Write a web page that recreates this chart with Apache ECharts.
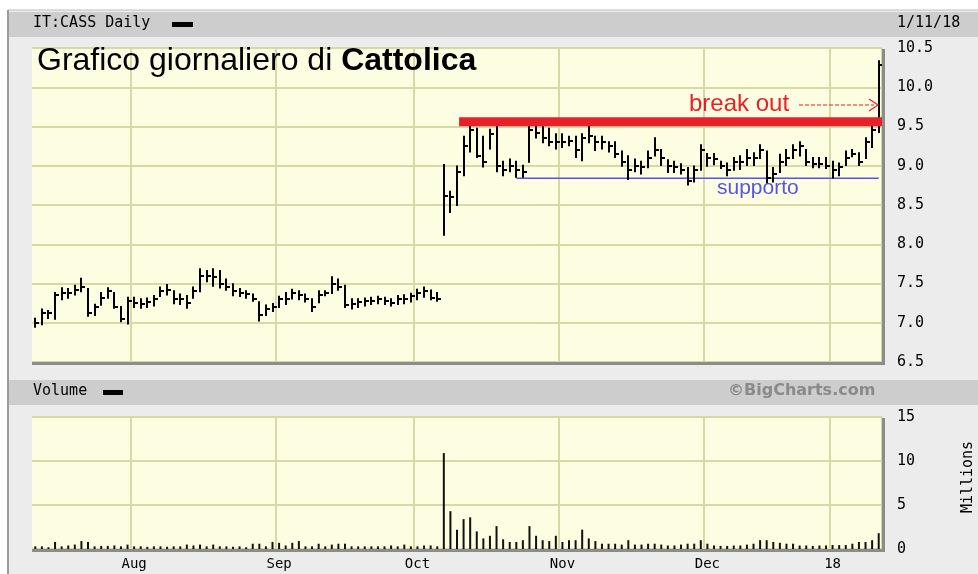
<!DOCTYPE html>
<html>
<head>
<meta charset="utf-8">
<script src="https://cdn.jsdelivr.net/npm/echarts@6/dist/echarts.min.js"></script>
<style>
  html, body { margin: 0; padding: 0; background: #fff; }
  #chart { width: 978px; height: 574px; }
</style>
</head>
<body>
<div id="chart"></div>
<script>
// trading days (Borsa Italiana), Jul 2017 - Jan 2018
const jul17 = [11,12,13,14,17,18,19,20,21,24,25,26,27,28,31];
const aug17 = [1,2,3,4,7,8,9,10,11,14,16,17,18,21,22,23,24,25,28,29,30,31];
const sep17 = [1,4,5,6,7,8,11,12,13,14,15,18,19,20,21,22,25,26,27,28,29];
const oct17 = [2,3,4,5,6,9,10,11,12,13,16,17,18,19,20,23,24,25,26,27,30,31];
const nov17 = [1,2,3,6,7,8,9,10,13,14,15,16,17,20,21,22,23,24,27,28,29,30];
const dec17 = [1,4,5,6,7,8,11,12,13,14,15,18,19,20,21,22,27,28,29];
const jan18 = [2,3,4,5,8,9,10,11];

const monthLabels = ['Aug', 'Sep', 'Oct', 'Nov', 'Dec', '18'];

// daily high / low / close (EUR)
const highs = [
  7.05, 7.17, 7.15, 7.38, 7.44, 7.43, 7.47, 7.56, 7.43, 7.23,
  7.38, 7.44, 7.38, 7.20, 7.32, 7.32, 7.30, 7.31, 7.34, 7.45,
  7.48, 7.40, 7.36, 7.34, 7.45, 7.68, 7.66, 7.68, 7.66, 7.55,
  7.49, 7.43, 7.40, 7.36, 7.26, 7.22, 7.24, 7.33, 7.38, 7.42,
  7.40, 7.36, 7.30, 7.40, 7.40, 7.58, 7.55, 7.47, 7.30, 7.30,
  7.31, 7.32, 7.33, 7.32, 7.30, 7.34, 7.35, 7.37, 7.42, 7.45,
  7.41, 7.38, 9.01, 8.67, 8.99, 9.37, 9.50, 9.47, 9.37, 9.46,
  9.50, 9.05, 9.08, 9.05, 9.00, 9.50, 9.50, 9.50, 9.47, 9.40,
  9.40, 9.37, 9.37, 9.40, 9.50, 9.37, 9.37, 9.30, 9.30, 9.18,
  9.12, 9.08, 9.05, 9.18, 9.35, 9.20, 9.07, 9.05, 9.02, 8.97,
  8.99, 9.26, 9.15, 9.15, 9.05, 9.03, 9.10, 9.12, 9.20, 9.16,
  9.26, 9.18, 8.97, 9.14, 9.20, 9.26, 9.30, 9.20, 9.10, 9.10,
  9.10, 9.05, 9.03, 9.18, 9.20, 9.16, 9.35, 9.50, 10.33
];
const lows = [
  6.95, 6.98, 7.06, 7.05, 7.30, 7.32, 7.36, 7.40, 7.09, 7.10,
  7.23, 7.32, 7.19, 7.02, 6.99, 7.20, 7.19, 7.20, 7.22, 7.34,
  7.36, 7.25, 7.24, 7.19, 7.32, 7.40, 7.53, 7.47, 7.45, 7.42,
  7.35, 7.34, 7.32, 7.28, 7.03, 7.10, 7.15, 7.20, 7.24, 7.31,
  7.30, 7.27, 7.15, 7.26, 7.35, 7.38, 7.42, 7.20, 7.18, 7.20,
  7.22, 7.24, 7.25, 7.24, 7.22, 7.24, 7.25, 7.27, 7.30, 7.33,
  7.30, 7.28, 8.12, 8.41, 8.50, 8.88, 9.18, 9.11, 8.99, 9.22,
  8.93, 8.88, 8.93, 8.86, 8.86, 9.05, 9.36, 9.30, 9.26, 9.22,
  9.24, 9.26, 9.11, 9.07, 9.30, 9.20, 9.22, 9.18, 9.11, 9.00,
  8.83, 8.93, 8.90, 8.98, 9.13, 9.01, 8.92, 8.92, 8.90, 8.76,
  8.80, 8.95, 9.00, 9.02, 8.97, 8.88, 8.95, 8.96, 9.01, 9.01,
  9.10, 8.78, 8.80, 8.92, 9.01, 9.10, 9.13, 9.01, 8.98, 8.98,
  8.97, 8.85, 8.88, 9.01, 9.12, 9.01, 9.10, 9.24, 9.43
];
const closes = [
  7.00, 7.12, 7.12, 7.35, 7.38, 7.38, 7.42, 7.45, 7.12, 7.20,
  7.32, 7.40, 7.20, 7.05, 7.28, 7.25, 7.24, 7.26, 7.30, 7.40,
  7.42, 7.30, 7.30, 7.25, 7.40, 7.60, 7.60, 7.58, 7.50, 7.45,
  7.40, 7.38, 7.36, 7.30, 7.10, 7.18, 7.20, 7.30, 7.30, 7.38,
  7.35, 7.30, 7.20, 7.35, 7.38, 7.50, 7.45, 7.22, 7.24, 7.26,
  7.28, 7.28, 7.30, 7.28, 7.25, 7.30, 7.30, 7.34, 7.38, 7.40,
  7.32, 7.30, 8.62, 8.60, 8.92, 9.25, 9.45, 9.12, 9.05, 9.40,
  9.00, 8.95, 9.00, 8.95, 8.92, 9.45, 9.42, 9.35, 9.30, 9.30,
  9.30, 9.32, 9.20, 9.35, 9.38, 9.30, 9.30, 9.25, 9.15, 9.05,
  8.95, 9.00, 8.98, 9.10, 9.20, 9.10, 9.00, 8.98, 8.95, 8.80,
  8.95, 9.20, 9.10, 9.08, 9.00, 8.95, 9.05, 9.05, 9.10, 9.10,
  9.20, 8.85, 8.90, 9.05, 9.10, 9.20, 9.25, 9.05, 9.02, 9.02,
  9.00, 8.95, 8.98, 9.10, 9.15, 9.05, 9.30, 9.45, 10.28
];
// volume, millions of shares
const volumes = [
  0.3, 0.3, 0.2, 0.8, 0.3, 0.4, 0.5, 0.9, 0.8, 0.3,
  0.35, 0.35, 0.4, 0.3, 0.5, 0.3, 0.3, 0.25, 0.3, 0.3,
  0.25, 0.3, 0.3, 0.5, 0.4, 0.5, 0.3, 0.5, 0.3, 0.3,
  0.25, 0.3, 0.2, 0.6, 0.6, 0.3, 0.8, 0.7, 0.4, 0.7,
  0.9, 0.3, 0.3, 0.6, 0.3, 0.5, 0.6, 0.6, 0.3, 0.3,
  0.3, 0.3, 0.3, 0.3, 0.4, 0.3, 0.5, 0.3, 0.3, 0.4,
  0.4, 0.3, 10.9, 4.3, 2.2, 3.4, 3.6, 2.0, 1.2, 1.5,
  2.6, 1.1, 0.8, 0.8, 1.0, 2.6, 1.5, 1.0, 0.9, 1.5,
  0.8, 1.0, 1.0, 2.2, 1.2, 0.9, 0.6, 0.6, 0.6, 0.5,
  1.0, 0.5, 0.5, 0.6, 0.6, 0.5, 0.4, 0.4, 0.5, 0.6,
  0.6, 1.0, 0.6, 0.4, 0.35, 0.35, 0.4, 0.4, 0.5, 0.6,
  1.0, 1.0, 0.8, 0.7, 0.6, 0.6, 0.4, 0.4, 0.35, 0.4,
  0.4, 0.45, 0.45, 0.45, 0.6, 0.8, 0.8, 1.0, 1.8
];

const breakOut = 9.56;   // resistance level
const support = 8.84;    // support level
const breakStart = 65;   // first day of the red line (index)
const supportStart = 73; // first day of the blue line (index)

// build category list + month start positions
const pad = n => (n < 10 ? '0' : '') + n;
const months = [['2017-07', jul17], ['2017-08', aug17], ['2017-09', sep17],
  ['2017-10', oct17], ['2017-11', nov17], ['2017-12', dec17], ['2018-01', jan18]];
const days = [];
const monthStart = {};
months.forEach(([ym, list], m) => {
  if (m > 0) monthStart[days.length] = monthLabels[m - 1];
  list.forEach(d => days.push(ym + '-' + pad(d)));
});
const isStart = (idx) => monthStart[idx] !== undefined;
const lastIdx = days.length - 1;

const ohlc = highs.map((h, i) => [i, h, lows[i], closes[i]]);

const gridColor = '#d9d9a6';
const mono = 'DejaVu Sans Mono';

function renderBar(params, api) {
  const i = api.value(0);
  const hi = api.coord([i, api.value(1)]);
  const lo = api.coord([i, api.value(2)]);
  const cl = api.coord([i, api.value(3)]);
  const x = Math.round(hi[0]);
  return {
    type: 'group',
    children: [
      { type: 'line', shape: { x1: x, y1: hi[1] - 1, x2: x, y2: lo[1] + 1 },
        style: { stroke: '#000', lineWidth: 2 } },
      { type: 'line', shape: { x1: x, y1: Math.round(cl[1]), x2: x + 4, y2: Math.round(cl[1]) },
        style: { stroke: '#000', lineWidth: 2 } }
    ]
  };
}

const chart = echarts.init(document.getElementById('chart'));

const option = {
  animation: false,
  backgroundColor: '#ececec',
  grid: [
    { left: 32, top: 48, width: 850, height: 314, show: true, backgroundColor: '#fdfde1', borderWidth: 0 },
    { left: 32, top: 417, width: 850, height: 132, show: true, backgroundColor: '#fdfde1', borderWidth: 0 }
  ],
  xAxis: [
    {
      type: 'category', gridIndex: 0, data: days, boundaryGap: true,
      axisLine: { show: false }, axisTick: { show: false }, axisLabel: { show: false },
      splitLine: { show: true, interval: (idx) => isStart(idx), lineStyle: { color: gridColor, width: 2 } }
    },
    {
      type: 'category', gridIndex: 1, data: days, boundaryGap: true,
      axisLine: { show: false }, axisTick: { show: false },
      axisLabel: {
        interval: (idx) => isStart(idx),
        formatter: (v, idx) => monthStart[idx] || '',
        fontFamily: mono, fontSize: 14, color: '#000', margin: 8
      },
      splitLine: { show: true, interval: (idx) => isStart(idx), lineStyle: { color: gridColor, width: 2 } }
    }
  ],
  yAxis: [
    {
      type: 'value', gridIndex: 0, position: 'right', min: 6.5, max: 10.5, interval: 0.5,
      axisLine: { show: false }, axisTick: { show: false },
      axisLabel: { formatter: v => v.toFixed(1), fontFamily: mono, fontSize: 15, color: '#000', margin: 15 },
      splitLine: { lineStyle: { color: gridColor, width: 2 } }
    },
    {
      type: 'value', gridIndex: 1, position: 'right', min: 0, max: 15, interval: 5,
      axisLine: { show: false }, axisTick: { show: false },
      axisLabel: { fontFamily: mono, fontSize: 15, color: '#000', margin: 15 },
      splitLine: { lineStyle: { color: gridColor, width: 2 } }
    }
  ],
  series: [
    {
      type: 'custom', name: 'IT:CASS', xAxisIndex: 0, yAxisIndex: 0,
      renderItem: renderBar, data: ohlc, encode: { x: 0, y: [1, 2, 3] }, z: 3
    },
    {
      // level lines drawn by the axes
      type: 'line', name: 'breakout', xAxisIndex: 0, yAxisIndex: 0, z: 4,
      data: [[breakStart, breakOut], [lastIdx, breakOut]],
      symbol: 'none', silent: true,
      lineStyle: { color: '#e8202a', width: 9, cap: 'square' }
    },
    {
      type: 'line', name: 'supporto', xAxisIndex: 0, yAxisIndex: 0, z: 2,
      data: [[supportStart, support], [lastIdx, support]],
      symbol: 'none', silent: true,
      lineStyle: { color: '#5555e0', width: 1.5 }
    },
    {
      type: 'bar', name: 'Volume', xAxisIndex: 1, yAxisIndex: 1,
      data: volumes, barWidth: 2, itemStyle: { color: '#111' }
    }
  ],
  graphic: [
    // frame
    { type: 'rect', shape: { x: 0, y: 0, width: 978, height: 10 }, style: { fill: '#ffffff' } },
    { type: 'rect', shape: { x: 0, y: 0, width: 8, height: 574 }, style: { fill: '#ffffff' } },
    { type: 'line', shape: { x1: 8, y1: 10, x2: 978, y2: 10 }, style: { stroke: '#bdbdbd', lineWidth: 1 } },
    { type: 'line', shape: { x1: 8, y1: 10, x2: 8, y2: 574 }, style: { stroke: '#9a9a9a', lineWidth: 2 } },
    // header bars
    { type: 'rect', shape: { x: 9, y: 12, width: 969, height: 25 }, style: { fill: '#cdcdcd' } },
    { type: 'rect', shape: { x: 9, y: 380, width: 969, height: 25 }, style: { fill: '#cdcdcd' } },
    { type: 'text', left: 33, top: 16, style: { text: 'IT:CASS Daily', font: '15px "DejaVu Sans Mono"', fill: '#000' } },
    { type: 'rect', shape: { x: 172, y: 22, width: 21, height: 5 }, style: { fill: '#000' } },
    { type: 'text', left: 897, top: 16, style: { text: '1/11/18', font: '15px "DejaVu Sans Mono"', fill: '#000' } },
    { type: 'text', left: 33, top: 384, style: { text: 'Volume', font: '15px "DejaVu Sans Mono"', fill: '#000' } },
    { type: 'rect', shape: { x: 103, y: 390, width: 20, height: 5 }, style: { fill: '#000' } },
    { type: 'text', left: 728, top: 383, style: { text: '©BigCharts.com', font: 'bold 16px "DejaVu Sans"', fill: '#8a8a8a' } },
    {
      type: 'text', x: 968, y: 477, rotation: Math.PI / 2,
      style: { text: 'Millions', font: '15px "DejaVu Sans Mono"', fill: '#000', textAlign: 'center', textVerticalAlign: 'middle' }
    },
    // plot shadows
    { type: 'rect', shape: { x: 882, y: 49, width: 3, height: 316 }, style: { fill: '#8c8c8c' }, z: 10 },
    { type: 'rect', shape: { x: 32, y: 362, width: 853, height: 3 }, style: { fill: '#8c8c8c' }, z: 10 },
    { type: 'rect', shape: { x: 882, y: 418, width: 3, height: 134 }, style: { fill: '#8c8c8c' }, z: 10 },
    { type: 'rect', shape: { x: 32, y: 549, width: 853, height: 3 }, style: { fill: '#8c8c8c' }, z: 10 },
    // annotations
    {
      type: 'text', left: 37, top: 45, z: 20,
      style: {
        text: '{a|Grafico giornaliero di }{b|Cattolica}',
        rich: {
          a: { fontSize: 32, fontFamily: 'Liberation Sans', fill: '#000' },
          b: { fontSize: 32, fontFamily: 'Liberation Sans', fontWeight: 'bold', fill: '#000' }
        }
      }
    },
    { type: 'text', left: 689, top: 92, z: 20, style: { text: 'break out', font: '24px "Liberation Sans"', fill: '#e8202a' } },
    { type: 'line', z: 20, shape: { x1: 799, y1: 105, x2: 874, y2: 105 }, style: { stroke: '#e8202a', lineWidth: 1.2, lineDash: [4, 2] } },
    { type: 'polyline', z: 20, shape: { points: [[869, 99], [878, 105], [869, 111]] }, style: { stroke: '#e8202a', lineWidth: 1.2, fill: null } },
    { type: 'text', left: 717, top: 178, z: 20, style: { text: 'supporto', font: '21px "Liberation Sans"', fill: '#5555e0' } }
  ]
};

chart.setOption(option);
</script>
</body>
</html>
